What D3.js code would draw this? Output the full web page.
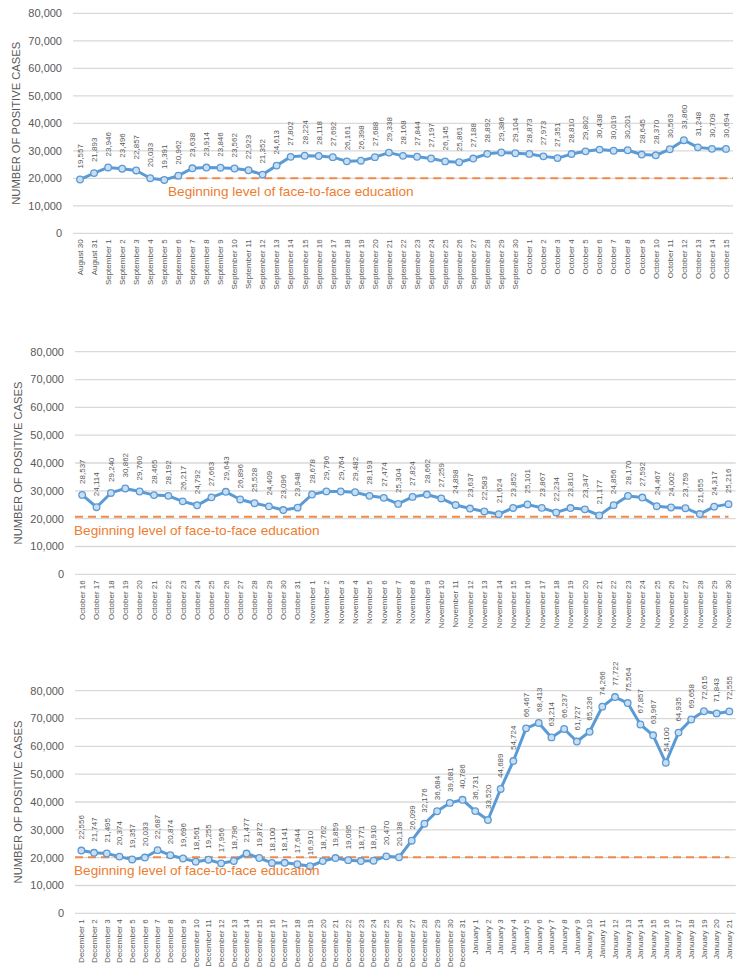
<!DOCTYPE html>
<html><head><meta charset="utf-8">
<script src="https://cdn.jsdelivr.net/npm/d3@7"></script>
<style>
html,body{margin:0;padding:0;background:#fff;}
svg{display:block;font-family:"Liberation Sans",Arial,sans-serif;}
</style></head>
<body>
<svg id="chart" width="749" height="978"></svg>
<script>
const categories1 = ["August 30","August 31","September 1","September 2","September 3","September 4","September 5","September 6","September 7","September 8","September 9","September 10","September 11","September 12","September 13","September 14","September 15","September 16","September 17","September 18","September 19","September 20","September 21","September 22","September 23","September 24","September 25","September 26","September 27","September 28","September 29","September 30","October 1","October 2","October 3","October 4","October 5","October 6","October 7","October 8","October 9","October 10","October 11","October 12","October 13","October 14","October 15"];
const values1 = [19557,21893,23946,23496,22857,20033,19391,20962,23638,23914,23846,23562,22923,21352,24613,27802,28224,28118,27692,26161,26398,27688,29338,28168,27844,27197,26145,25861,27188,28892,29386,29104,28873,27973,27351,28810,29802,30438,30019,30201,28645,28370,30563,33860,31248,30709,30694];

const categories2 = ["October 16","October 17","October 18","October 19","October 20","October 21","October 22","October 23","October 24","October 25","October 26","October 27","October 28","October 29","October 30","October 31","November 1","November 2","November 3","November 4","November 5","November 6","November 7","November 8","November 9","November 10","November 11","November 12","November 13","November 14","November 15","November 16","November 17","November 18","November 19","November 20","November 21","November 22","November 23","November 24","November 25","November 26","November 27","November 28","November 29","November 30"];
const values2 = [28537,24114,29240,30862,29760,28465,28192,26217,24792,27663,29643,26896,25528,24409,23096,23948,28678,29796,29764,29482,28193,27474,25304,27824,28662,27259,24898,23637,22583,21624,23852,25101,23867,22234,23810,23347,21177,24856,28170,27592,24467,24002,23759,21655,24317,25216];

const categories3 = ["December 1","December 2","December 3","December 4","December 5","December 6","December 7","December 8","December 9","December 10","December 11","December 12","December 13","December 14","December 15","December 16","December 17","December 18","December 19","December 20","December 21","December 22","December 23","December 24","December 25","December 26","December 27","December 28","December 29","December 30","December 31","January 1","January 2","January 3","January 4","January 5","January 6","January 7","January 8","January 9","January 10","January 11","January 12","January 13","January 14","January 15","January 16","January 17","January 18","January 19","January 20","January 21"];
const values3 = [22556,21747,21495,20374,19357,20033,22687,20874,19696,18561,19255,17956,18796,21477,19872,18100,18141,17644,16910,18762,19859,19095,18771,18910,20470,20138,26099,32176,36684,39681,40786,36731,33520,44689,54724,66467,68413,63214,66237,61727,65236,74266,77722,75564,67857,63967,54100,64935,69658,72615,71843,72555];

const yTicks = [0,10000,20000,30000,40000,50000,60000,70000,80000];
const baselineLevels = [20000, 20700, 20150];
const baselineStarts = ["September 5", null, null];
const annotationText = "Beginning level of face-to-face education";
const yTitle = "NUMBER OF POSITIVE CASES";

const panels = [
  {cats: categories1, vals: values1, left: 73, right: 733, top: 13.3, bottom: 233.3, titleX: 16, lineEndAtEdge: true, annX: 168},
  {cats: categories2, vals: values2, left: 75, right: 735.7, top: 351.7, bottom: 574.3, titleX: 18, lineEndAtEdge: false, annX: 74},
  {cats: categories3, vals: values3, left: 75, right: 735.7, top: 690.7, bottom: 913.3, titleX: 18, lineEndAtEdge: false, annX: 74}
];

const svg = d3.select("#chart");
const fmt = d3.format(",");
const blue = "#5B9BD5", orange = "#ED7D31", grey = "#595959";

panels.forEach((p, i) => {
  const g = svg.append("g");
  const x = d3.scalePoint().domain(p.cats).range([p.left, p.right]).padding(0.5);
  const y = d3.scaleLinear().domain([0, 80000]).range([p.bottom, p.top]);

  // gridlines
  g.selectAll("line.grid").data(yTicks).join("line")
    .attr("x1", p.left).attr("x2", p.right)
    .attr("y1", d => y(d)).attr("y2", d => y(d))
    .attr("stroke", "#D9D9D9").attr("stroke-width", 1.3);

  // y tick labels
  g.selectAll("text.ytick").data(yTicks).join("text")
    .attr("x", p.left - 11).attr("y", d => y(d)).attr("dy", "0.35em")
    .attr("text-anchor", "end").attr("font-size", 11).attr("fill", grey)
    .text(d => fmt(d));

  // y title
  g.append("text")
    .attr("transform", `translate(${p.titleX},${(p.top + p.bottom) / 2}) rotate(-90)`)
    .attr("dy", "0.35em").attr("text-anchor", "middle")
    .attr("font-size", 11.2).attr("fill", grey).text(yTitle);

  // x labels
  g.selectAll("text.xl").data(p.cats).join("text")
    .attr("transform", d => `translate(${x(d)},${p.bottom + 6}) rotate(-90)`)
    .attr("dy", "0.35em").attr("text-anchor", "end")
    .attr("font-size", 8).attr("fill", grey).text(d => d);

  // baseline
  const lvl = baselineLevels[i];
  const x1 = baselineStarts[i] ? x(baselineStarts[i]) - 4 : p.left;
  const x2 = p.lineEndAtEdge ? p.right : x(p.cats[p.cats.length - 1]);
  g.append("line")
    .attr("x1", x1).attr("x2", x2).attr("y1", y(lvl)).attr("y2", y(lvl))
    .attr("stroke", "#F08A4B").attr("stroke-width", 2).attr("stroke-dasharray", "8,5");

  // series line
  const data = p.cats.map((c, k) => ({c, v: p.vals[k]}));
  g.append("path").datum(data)
    .attr("fill", "none").attr("stroke", blue).attr("stroke-width", 3)
    .attr("stroke-linejoin", "round")
    .attr("d", d3.line().x(d => x(d.c)).y(d => y(d.v)));

  g.selectAll("circle").data(data).join("circle")
    .attr("cx", d => x(d.c)).attr("cy", d => y(d.v)).attr("r", 3.3)
    .attr("fill", "#C9DEF2").attr("stroke", blue).attr("stroke-width", 1.3);

  // data labels
  g.selectAll("text.dl").data(data).join("text")
    .attr("transform", d => `translate(${x(d.c)},${y(d.v) - 11}) rotate(-90)`)
    .attr("dy", "0.35em").attr("text-anchor", "start")
    .attr("font-size", 8).attr("fill", grey).text(d => fmt(d.v));

  // annotation
  g.append("text")
    .attr("x", p.annX).attr("y", y(lvl) + 18)
    .attr("font-size", 13.6).attr("fill", orange).text(annotationText);
});
</script>
</body></html>
